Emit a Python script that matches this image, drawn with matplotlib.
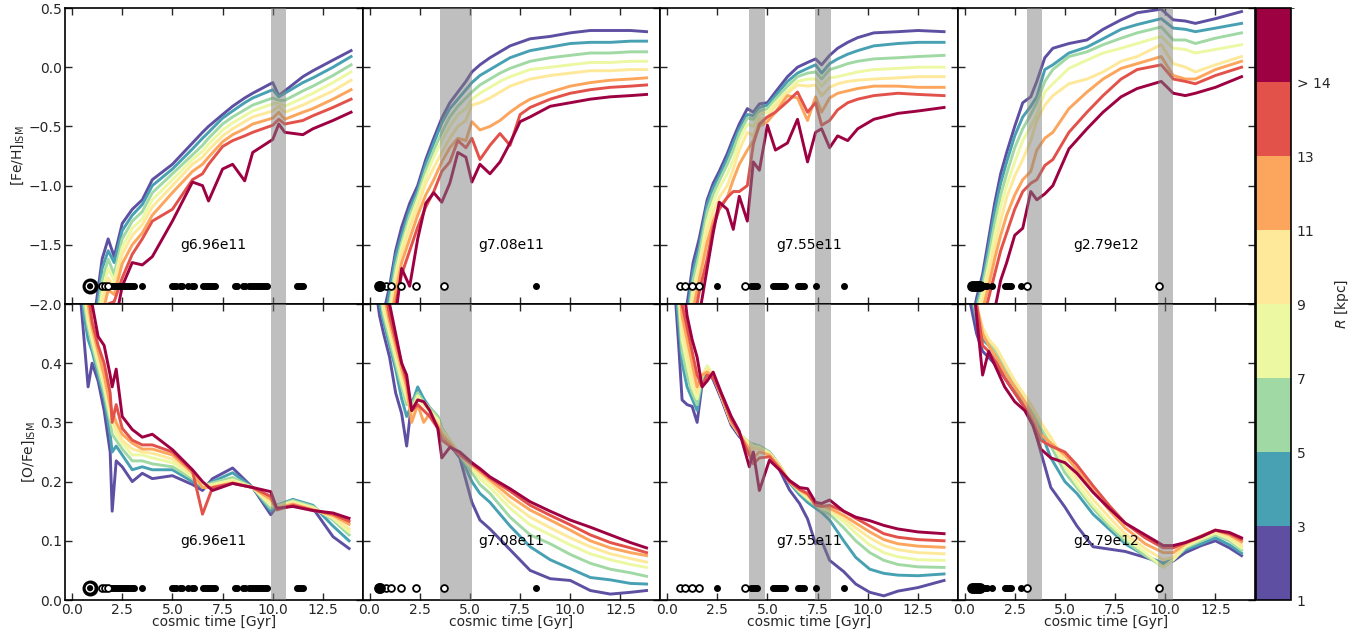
import matplotlib as mpl
import matplotlib.pyplot as plt
from matplotlib.ticker import MultipleLocator

galaxies = ['g6.96e11', 'g7.08e11', 'g7.55e11', 'g2.79e12']
r_edges = [1, 3, 5, 7, 9, 11, 13, 15, 17]
r_ticklabels = ['1', '3', '5', '7', '9', '11', '13', '> 14']

# ---- [Fe/H]_ISM, one list per radial bin (inner -> outer) ----
t_feh_1 = [0.8, 1.2, 1.5, 1.8, 2.1, 2.5, 3.0, 3.5, 4.0, 5.0, 6.0, 6.5, 6.8, 7.5, 8.0, 8.6,
           9.0, 10.0, 10.3, 10.6, 11.5, 12.0, 13.0, 13.9]
feh_1 = [
    [-2.4, -2.0, -1.62, -1.45, -1.6, -1.32, -1.2, -1.12, -0.95, -0.82, -0.64, -0.55, -0.5, -0.4, -0.33, -0.26, -0.22, -0.13, -0.24, -0.2, -0.08, -0.03, 0.06, 0.14],
    [-2.4, -2.1, -1.7, -1.55, -1.65, -1.38, -1.25, -1.16, -1.0, -0.86, -0.69, -0.6, -0.55, -0.43, -0.37, -0.3, -0.26, -0.19, -0.25, -0.22, -0.13, -0.09, 0.0, 0.09],
    [-2.5, -2.2, -1.8, -1.62, -1.75, -1.45, -1.3, -1.22, -1.06, -0.9, -0.74, -0.66, -0.6, -0.48, -0.42, -0.36, -0.32, -0.26, -0.28, -0.28, -0.2, -0.16, -0.07, 0.02],
    [-2.5, -2.3, -1.9, -1.7, -1.8, -1.52, -1.36, -1.28, -1.12, -0.95, -0.78, -0.71, -0.65, -0.53, -0.47, -0.41, -0.37, -0.31, -0.3, -0.33, -0.26, -0.22, -0.13, -0.04],
    [-2.5, -2.4, -2.0, -1.78, -1.85, -1.58, -1.42, -1.33, -1.18, -1.0, -0.82, -0.76, -0.7, -0.58, -0.52, -0.46, -0.42, -0.37, -0.33, -0.38, -0.32, -0.28, -0.2, -0.11],
    [-2.5, -2.5, -2.1, -1.88, -1.92, -1.66, -1.5, -1.4, -1.25, -1.06, -0.88, -0.82, -0.76, -0.63, -0.57, -0.52, -0.48, -0.43, -0.38, -0.44, -0.38, -0.35, -0.27, -0.19],
    [-2.5, -2.5, -2.3, -2.0, -1.98, -1.78, -1.58, -1.45, -1.3, -1.2, -0.95, -0.9, -0.82, -0.67, -0.62, -0.58, -0.55, -0.49, -0.44, -0.48, -0.45, -0.41, -0.34, -0.27],
    [-2.5, -2.5, -2.5, -2.3, -2.2, -1.85, -1.65, -1.67, -1.6, -1.3, -0.97, -1.0, -1.13, -0.86, -0.82, -0.96, -0.72, -0.61, -0.48, -0.55, -0.57, -0.52, -0.45, -0.38],
]

t_feh_2 = [0.4, 0.8, 1.0, 1.3, 1.6, 2.0, 2.4, 2.8, 3.2, 3.6, 4.0, 4.4, 4.8, 5.1, 5.5, 6.0,
           6.5, 7.0, 7.5, 8.0, 9.0, 10.0, 11.0, 12.0, 13.0, 13.8]
feh_2 = [
    [-2.2, -2.0, -1.85, -1.55, -1.35, -1.15, -1.0, -0.78, -0.6, -0.43, -0.3, -0.21, -0.12, -0.04, 0.02, 0.08, 0.13, 0.18, 0.21, 0.24, 0.26, 0.29, 0.31, 0.31, 0.31, 0.30],
    [-2.3, -2.1, -1.9, -1.6, -1.42, -1.2, -1.04, -0.82, -0.64, -0.47, -0.35, -0.27, -0.19, -0.13, -0.07, -0.02, 0.03, 0.08, 0.11, 0.14, 0.17, 0.2, 0.21, 0.21, 0.22, 0.22],
    [-2.4, -2.2, -2.0, -1.68, -1.48, -1.25, -1.08, -0.87, -0.7, -0.55, -0.42, -0.33, -0.26, -0.21, -0.15, -0.1, -0.05, -0.01, 0.02, 0.05, 0.08, 0.1, 0.12, 0.12, 0.13, 0.13],
    [-2.4, -2.3, -2.05, -1.75, -1.52, -1.3, -1.12, -0.92, -0.76, -0.62, -0.5, -0.4, -0.35, -0.27, -0.22, -0.17, -0.12, -0.08, -0.05, -0.02, 0.0, 0.02, 0.04, 0.04, 0.05, 0.05],
    [-2.5, -2.35, -2.1, -1.8, -1.58, -1.36, -1.18, -0.98, -0.85, -0.72, -0.6, -0.5, -0.45, -0.32, -0.3, -0.26, -0.21, -0.16, -0.13, -0.1, -0.07, -0.05, -0.03, -0.03, -0.02, -0.02],
    [-2.5, -2.4, -2.2, -1.9, -1.65, -1.45, -1.25, -1.08, -0.95, -0.8, -0.68, -0.6, -0.62, -0.46, -0.53, -0.5, -0.45, -0.38, -0.32, -0.27, -0.21, -0.16, -0.13, -0.11, -0.1, -0.09],
    [-2.5, -2.5, -2.3, -2.0, -1.75, -1.55, -1.35, -1.18, -1.05, -0.88, -0.8, -0.62, -0.68, -0.6, -0.78, -0.66, -0.56, -0.66, -0.40, -0.34, -0.27, -0.22, -0.19, -0.17, -0.16, -0.15],
    [-2.5, -2.5, -2.4, -2.1, -1.7, -1.85, -1.45, -1.15, -1.06, -1.14, -0.98, -0.72, -0.76, -0.97, -0.82, -0.9, -0.8, -0.64, -0.46, -0.42, -0.33, -0.3, -0.27, -0.25, -0.24, -0.23],
]

t_feh_3 = [0.8, 1.0, 1.3, 1.6, 2.0, 2.3, 2.6, 3.0, 3.3, 3.6, 4.0, 4.3, 4.6, 5.0, 5.4, 6.0,
           6.5, 7.0, 7.4, 7.7, 8.1, 8.5, 9.0, 9.5, 10.3, 11.5, 12.5, 13.8]
feh_3 = [
    [-2.3, -2.0, -1.65, -1.45, -1.12, -0.98, -0.88, -0.73, -0.6, -0.48, -0.35, -0.38, -0.31, -0.3, -0.21, -0.08, 0.0, 0.04, 0.07, 0.02, 0.1, 0.16, 0.21, 0.25, 0.29, 0.3, 0.31, 0.3],
    [-2.35, -2.1, -1.72, -1.52, -1.16, -1.02, -0.92, -0.77, -0.64, -0.52, -0.4, -0.41, -0.34, -0.32, -0.24, -0.12, -0.05, -0.01, 0.02, -0.05, 0.03, 0.07, 0.11, 0.14, 0.18, 0.2, 0.21, 0.21],
    [-2.4, -2.2, -1.8, -1.58, -1.22, -1.07, -0.96, -0.82, -0.7, -0.56, -0.43, -0.44, -0.37, -0.35, -0.27, -0.16, -0.08, -0.05, -0.04, -0.1, -0.02, 0.0, 0.03, 0.05, 0.07, 0.08, 0.09, 0.1],
    [-2.45, -2.25, -1.88, -1.66, -1.3, -1.14, -1.02, -0.9, -0.78, -0.62, -0.48, -0.5, -0.4, -0.38, -0.3, -0.2, -0.12, -0.1, -0.1, -0.16, -0.09, -0.08, -0.06, -0.04, -0.02, -0.01, 0.0, 0.0],
    [-2.5, -2.3, -1.95, -1.72, -1.38, -1.22, -1.1, -1.0, -0.86, -0.7, -0.55, -0.58, -0.44, -0.42, -0.33, -0.22, -0.15, -0.16, -0.15, -0.24, -0.17, -0.14, -0.12, -0.11, -0.1, -0.09, -0.08, -0.08],
    [-2.5, -2.4, -2.05, -1.8, -1.48, -1.3, -1.18, -1.1, -0.95, -0.82, -0.7, -0.62, -0.5, -0.46, -0.38, -0.24, -0.26, -0.45, -0.25, -0.38, -0.26, -0.22, -0.2, -0.18, -0.16, -0.16, -0.17, -0.17],
    [-2.5, -2.5, -2.2, -1.9, -1.62, -1.35, -1.2, -1.1, -1.05, -1.05, -1.0, -0.65, -0.48, -0.42, -0.38, -0.29, -0.21, -0.38, -0.3, -0.49, -0.45, -0.36, -0.3, -0.27, -0.24, -0.22, -0.23, -0.24],
    [-2.5, -2.5, -2.4, -2.1, -1.7, -1.4, -1.14, -1.2, -1.37, -1.09, -1.3, -0.8, -0.87, -0.49, -0.7, -0.64, -0.44, -0.8, -0.55, -0.52, -0.68, -0.58, -0.62, -0.52, -0.44, -0.39, -0.37, -0.34],
]

t_feh_4 = [0.3, 0.6, 0.9, 1.2, 1.5, 1.8, 2.1, 2.5, 2.9, 3.3, 3.6, 4.0, 4.4, 5.2, 6.1, 6.9,
           7.8, 8.6, 9.8, 10.4, 11.0, 11.5, 12.5, 13.8]
feh_4 = [
    [-2.2, -1.95, -1.75, -1.45, -1.15, -0.9, -0.72, -0.5, -0.3, -0.25, -0.12, 0.08, 0.16, 0.2, 0.23, 0.32, 0.4, 0.46, 0.49, 0.4, 0.39, 0.37, 0.41, 0.47],
    [-2.3, -2.0, -1.8, -1.52, -1.22, -0.98, -0.8, -0.58, -0.42, -0.33, -0.25, -0.02, 0.02, 0.12, 0.17, 0.24, 0.32, 0.36, 0.41, 0.33, 0.32, 0.3, 0.33, 0.37],
    [-2.35, -2.05, -1.85, -1.6, -1.32, -1.08, -0.9, -0.68, -0.52, -0.4, -0.3, -0.12, -0.02, 0.09, 0.13, 0.19, 0.245, 0.29, 0.34, 0.23, 0.23, 0.2, 0.245, 0.29],
    [-2.4, -2.1, -1.9, -1.68, -1.42, -1.18, -1.0, -0.8, -0.62, -0.5, -0.4, -0.21, -0.14, -0.01, 0.06, 0.12, 0.16, 0.2, 0.26, 0.16, 0.15, 0.12, 0.15, 0.19],
    [-2.45, -2.2, -1.98, -1.75, -1.52, -1.3, -1.1, -0.92, -0.78, -0.62, -0.45, -0.32, -0.24, -0.14, -0.1, -0.04, 0.05, 0.09, 0.19, 0.03, 0.0, -0.04, 0.02, 0.09],
    [-2.5, -2.3, -2.05, -1.85, -1.62, -1.42, -1.25, -1.08, -0.95, -0.88, -0.7, -0.6, -0.55, -0.35, -0.21, -0.1, -0.01, 0.03, 0.09, -0.07, -0.1, -0.1, -0.02, 0.05],
    [-2.5, -2.4, -2.15, -1.95, -1.75, -1.55, -1.4, -1.2, -1.05, -0.98, -0.95, -0.83, -0.78, -0.55, -0.38, -0.24, -0.1, -0.02, 0.02, -0.1, -0.12, -0.14, -0.07, 0.0],
    [-2.5, -2.5, -2.3, -2.3, -2.05, -1.8, -1.65, -1.42, -1.36, -1.05, -1.12, -1.07, -1.0, -0.69, -0.52, -0.38, -0.25, -0.18, -0.12, -0.22, -0.24, -0.22, -0.17, -0.08],
]

# ---- [O/Fe]_ISM ----
t_ofe_1 = [0.4, 0.6, 0.8, 1.0, 1.3, 1.6, 1.9, 2.0, 2.2, 2.5, 3.0, 3.5, 4.0, 5.0, 6.0, 6.5,
           7.0, 8.0, 9.0, 9.9, 10.2, 11.0, 12.0, 13.0, 13.8]
ofe_1 = [
    [0.52, 0.44, 0.36, 0.40, 0.37, 0.32, 0.25, 0.15, 0.235, 0.225, 0.2, 0.214, 0.205, 0.21, 0.195, 0.185, 0.205, 0.223, 0.19, 0.144, 0.158, 0.169, 0.155, 0.107, 0.087],
    [0.55, 0.48, 0.44, 0.42, 0.38, 0.34, 0.28, 0.25, 0.26, 0.245, 0.22, 0.225, 0.22, 0.22, 0.2, 0.19, 0.2, 0.215, 0.19, 0.15, 0.16, 0.17, 0.16, 0.125, 0.1],
    [0.56, 0.5, 0.46, 0.43, 0.39, 0.35, 0.3, 0.28, 0.27, 0.255, 0.235, 0.235, 0.23, 0.225, 0.205, 0.192, 0.198, 0.207, 0.19, 0.155, 0.16, 0.168, 0.158, 0.135, 0.11],
    [0.57, 0.52, 0.47, 0.44, 0.4, 0.36, 0.31, 0.3, 0.28, 0.265, 0.245, 0.245, 0.24, 0.232, 0.208, 0.193, 0.195, 0.203, 0.19, 0.16, 0.158, 0.166, 0.156, 0.138, 0.115],
    [0.58, 0.54, 0.48, 0.45, 0.41, 0.37, 0.32, 0.31, 0.29, 0.27, 0.255, 0.25, 0.248, 0.238, 0.212, 0.195, 0.193, 0.2, 0.19, 0.165, 0.157, 0.164, 0.154, 0.14, 0.12],
    [0.6, 0.56, 0.5, 0.46, 0.42, 0.38, 0.33, 0.32, 0.3, 0.28, 0.265, 0.255, 0.255, 0.245, 0.215, 0.19, 0.19, 0.198, 0.19, 0.17, 0.155, 0.162, 0.152, 0.143, 0.128],
    [0.62, 0.58, 0.52, 0.47, 0.43, 0.4, 0.35, 0.3, 0.33, 0.29, 0.27, 0.262, 0.262, 0.25, 0.218, 0.145, 0.19, 0.197, 0.19, 0.175, 0.152, 0.16, 0.152, 0.145, 0.133],
    [0.65, 0.62, 0.56, 0.5, 0.445, 0.43, 0.38, 0.36, 0.39, 0.31, 0.288, 0.275, 0.28, 0.254, 0.22, 0.2, 0.185, 0.197, 0.19, 0.183, 0.155, 0.158, 0.151, 0.147, 0.138],
]

t_ofe_2 = [0.3, 0.5, 0.7, 1.0, 1.3, 1.6, 1.85, 2.1, 2.4, 2.7, 3.0, 3.4, 3.6, 4.0, 4.5, 5.1,
           5.5, 6.0, 7.0, 8.0, 9.0, 10.0, 11.0, 12.0, 13.0, 13.8]
ofe_2 = [
    [0.53, 0.48, 0.45, 0.41, 0.35, 0.315, 0.26, 0.335, 0.35, 0.333, 0.32, 0.3, 0.28, 0.262, 0.24, 0.165, 0.135, 0.12, 0.085, 0.05, 0.036, 0.033, 0.016, 0.01, 0.013, 0.016],
    [0.55, 0.5, 0.47, 0.43, 0.39, 0.34, 0.31, 0.33, 0.36, 0.34, 0.325, 0.31, 0.29, 0.268, 0.245, 0.2, 0.18, 0.165, 0.125, 0.09, 0.068, 0.053, 0.038, 0.034, 0.028, 0.027],
    [0.56, 0.52, 0.48, 0.44, 0.4, 0.36, 0.33, 0.33, 0.35, 0.335, 0.325, 0.31, 0.29, 0.27, 0.245, 0.215, 0.195, 0.18, 0.14, 0.11, 0.095, 0.077, 0.062, 0.052, 0.046, 0.04],
    [0.57, 0.53, 0.49, 0.45, 0.41, 0.37, 0.34, 0.32, 0.345, 0.33, 0.32, 0.305, 0.288, 0.27, 0.245, 0.222, 0.205, 0.19, 0.155, 0.127, 0.11, 0.093, 0.078, 0.068, 0.06, 0.055],
    [0.58, 0.54, 0.5, 0.46, 0.42, 0.38, 0.35, 0.31, 0.34, 0.33, 0.318, 0.3, 0.285, 0.268, 0.245, 0.226, 0.212, 0.198, 0.165, 0.14, 0.122, 0.105, 0.09, 0.078, 0.07, 0.064],
    [0.6, 0.56, 0.52, 0.47, 0.43, 0.39, 0.36, 0.3, 0.33, 0.3, 0.315, 0.295, 0.28, 0.265, 0.245, 0.228, 0.217, 0.203, 0.175, 0.152, 0.135, 0.118, 0.1, 0.088, 0.08, 0.075],
    [0.62, 0.58, 0.54, 0.48, 0.44, 0.4, 0.37, 0.32, 0.33, 0.32, 0.31, 0.29, 0.27, 0.26, 0.245, 0.23, 0.22, 0.206, 0.184, 0.16, 0.143, 0.127, 0.11, 0.097, 0.088, 0.08],
    [0.65, 0.6, 0.56, 0.5, 0.45, 0.4, 0.38, 0.32, 0.338, 0.335, 0.32, 0.29, 0.24, 0.258, 0.25, 0.232, 0.222, 0.208, 0.188, 0.166, 0.15, 0.135, 0.123, 0.11, 0.097, 0.088],
]

t_ofe_3 = [0.4, 0.6, 0.75, 1.0, 1.25, 1.5, 1.75, 2.0, 2.3, 2.7, 3.2, 3.6, 4.1, 4.3, 4.6, 5.1,
           5.6, 6.1, 6.6, 7.0, 7.4, 7.7, 8.1, 8.8, 9.4, 10.1, 10.8, 11.5, 12.5, 13.8]
ofe_3 = [
    [0.52, 0.42, 0.338, 0.33, 0.327, 0.3, 0.366, 0.39, 0.372, 0.34, 0.295, 0.276, 0.259, 0.26, 0.258, 0.248, 0.22, 0.186, 0.163, 0.137, 0.095, 0.1, 0.067, 0.048, 0.027, 0.013, 0.007, 0.015, 0.021, 0.033],
    [0.54, 0.46, 0.4, 0.36, 0.34, 0.32, 0.37, 0.392, 0.375, 0.345, 0.3, 0.28, 0.265, 0.263, 0.26, 0.25, 0.228, 0.198, 0.178, 0.165, 0.155, 0.148, 0.135, 0.1, 0.072, 0.052, 0.045, 0.042, 0.041, 0.044],
    [0.56, 0.49, 0.42, 0.38, 0.35, 0.33, 0.375, 0.395, 0.378, 0.345, 0.3, 0.28, 0.266, 0.262, 0.26, 0.25, 0.228, 0.2, 0.182, 0.17, 0.16, 0.152, 0.145, 0.122, 0.1, 0.08, 0.067, 0.06, 0.056, 0.055],
    [0.57, 0.51, 0.44, 0.4, 0.36, 0.34, 0.38, 0.395, 0.38, 0.345, 0.3, 0.28, 0.265, 0.26, 0.258, 0.248, 0.228, 0.2, 0.184, 0.172, 0.162, 0.155, 0.15, 0.132, 0.113, 0.093, 0.08, 0.073, 0.068, 0.067],
    [0.58, 0.53, 0.46, 0.42, 0.38, 0.35, 0.38, 0.39, 0.38, 0.345, 0.3, 0.28, 0.262, 0.255, 0.255, 0.247, 0.227, 0.2, 0.185, 0.175, 0.163, 0.158, 0.153, 0.138, 0.122, 0.105, 0.092, 0.085, 0.08, 0.078],
    [0.6, 0.55, 0.48, 0.44, 0.4, 0.36, 0.38, 0.385, 0.378, 0.345, 0.3, 0.28, 0.255, 0.24, 0.25, 0.245, 0.225, 0.2, 0.186, 0.178, 0.165, 0.16, 0.155, 0.143, 0.13, 0.115, 0.102, 0.095, 0.091, 0.089],
    [0.62, 0.57, 0.5, 0.46, 0.42, 0.38, 0.36, 0.38, 0.375, 0.348, 0.305, 0.282, 0.245, 0.23, 0.24, 0.242, 0.222, 0.2, 0.187, 0.18, 0.16, 0.158, 0.16, 0.15, 0.138, 0.125, 0.112, 0.106, 0.102, 0.1],
    [0.65, 0.6, 0.55, 0.48, 0.44, 0.41, 0.36, 0.37, 0.385, 0.35, 0.31, 0.285, 0.225, 0.25, 0.185, 0.236, 0.22, 0.202, 0.19, 0.188, 0.165, 0.163, 0.169, 0.15, 0.14, 0.134, 0.126, 0.12, 0.115, 0.112],
]

t_ofe_4 = [0.3, 0.6, 0.9, 1.2, 1.6, 2.0, 2.5, 3.0, 3.4, 3.8, 4.3, 5.0, 5.6, 6.4, 7.2, 8.0,
           9.0, 9.9, 10.4, 11.0, 11.8, 12.5, 13.2, 13.8]
ofe_4 = [
    [0.5, 0.45, 0.42, 0.41, 0.395, 0.375, 0.35, 0.325, 0.3, 0.25, 0.19, 0.157, 0.125, 0.09, 0.086, 0.082, 0.072, 0.062, 0.066, 0.08, 0.092, 0.1, 0.088, 0.075],
    [0.52, 0.47, 0.44, 0.43, 0.41, 0.385, 0.36, 0.33, 0.31, 0.285, 0.24, 0.2, 0.18, 0.145, 0.12, 0.095, 0.075, 0.062, 0.07, 0.085, 0.095, 0.105, 0.093, 0.079],
    [0.53, 0.48, 0.45, 0.435, 0.42, 0.39, 0.365, 0.335, 0.315, 0.295, 0.26, 0.215, 0.19, 0.155, 0.125, 0.1, 0.075, 0.056, 0.068, 0.088, 0.1, 0.11, 0.1, 0.084],
    [0.54, 0.49, 0.46, 0.44, 0.425, 0.4, 0.37, 0.345, 0.325, 0.3, 0.27, 0.225, 0.195, 0.16, 0.13, 0.105, 0.08, 0.055, 0.068, 0.09, 0.103, 0.113, 0.103, 0.088],
    [0.55, 0.5, 0.46, 0.44, 0.425, 0.4, 0.37, 0.345, 0.325, 0.3, 0.275, 0.235, 0.205, 0.17, 0.14, 0.112, 0.087, 0.068, 0.072, 0.093, 0.105, 0.115, 0.106, 0.092],
    [0.56, 0.5, 0.45, 0.43, 0.41, 0.385, 0.36, 0.335, 0.31, 0.28, 0.265, 0.245, 0.22, 0.185, 0.152, 0.122, 0.095, 0.08, 0.08, 0.095, 0.108, 0.118, 0.11, 0.098],
    [0.57, 0.5, 0.43, 0.42, 0.4, 0.375, 0.35, 0.325, 0.3, 0.27, 0.26, 0.25, 0.228, 0.193, 0.16, 0.13, 0.105, 0.088, 0.088, 0.097, 0.108, 0.118, 0.112, 0.102],
    [0.58, 0.48, 0.38, 0.42, 0.39, 0.36, 0.335, 0.32, 0.295, 0.255, 0.24, 0.232, 0.214, 0.182, 0.155, 0.13, 0.11, 0.092, 0.092, 0.097, 0.107, 0.118, 0.114, 0.105],
]

# grey bands (merger phases), Gyr
bands = [[(9.9, 10.65)], [(3.5, 5.08)], [(4.08, 4.87), (7.38, 8.17)], [(3.12, 3.88), (9.62, 10.38)]]

# merger markers: big filled, small filled, open
merg_big = [[0.9], [0.45, 0.5], [], [0.35, 0.45, 0.55, 0.65, 0.75]]
merg_fill = [
    [1.9, 2.0, 2.1, 2.2, 2.3, 2.4, 2.5, 2.6, 2.7, 2.8, 2.9, 3.0, 3.1, 3.5, 5.0, 5.1, 5.2, 5.4, 5.5,
     5.8, 6.0, 6.1, 6.5, 6.6, 6.7, 6.8, 6.9, 7.0, 7.1, 8.1, 8.2, 8.5, 8.6, 8.8, 8.9, 9.0, 9.1,
     9.2, 9.3, 9.4, 9.5, 9.6, 9.7, 11.2, 11.3, 11.4, 11.5],
    [8.3],
    [0.75, 2.5, 4.2, 4.3, 4.4, 4.5, 5.3, 5.4, 5.5, 5.6, 5.7, 5.8, 5.9, 6.5, 6.6, 6.7, 6.8, 7.4, 8.8],
    [1.0, 1.1, 1.35, 2.0, 2.1, 2.2, 2.3, 2.8],
]
merg_open = [[1.5, 1.65, 1.8], [0.8, 1.05, 1.55, 2.3, 3.7], [0.65, 0.9, 1.25, 1.6, 3.9],
             [3.1, 9.7]]

feh_t = [t_feh_1, t_feh_2, t_feh_3, t_feh_4]
feh = [feh_1, feh_2, feh_3, feh_4]
ofe_t = [t_ofe_1, t_ofe_2, t_ofe_3, t_ofe_4]
ofe = [ofe_1, ofe_2, ofe_3, ofe_4]

txt = '#262626'
plt.rcParams['font.family'] = 'DejaVu Sans'
plt.rcParams['font.size'] = 10
plt.rcParams['xtick.color'] = txt
plt.rcParams['ytick.color'] = txt
plt.rcParams['axes.labelcolor'] = txt

cmap = plt.get_cmap('Spectral_r').resampled(8)
colors = [cmap(i) for i in range(8)]

W, H = 1359, 639
fig = plt.figure(figsize=(W / 100, H / 100), dpi=100)
x0, pw = 65, 297.5
ytop, ymid, ybot = 8, 304, 600

for row in range(2):
    for col in range(4):
        bottom = ymid if row == 0 else ybot
        ax = fig.add_axes([(x0 + col * pw) / W, (H - bottom) / H, pw / W, (ymid - ytop) / H])
        if row == 0:
            tt, data, ymerg = feh_t[col], feh[col], -1.85
        else:
            tt, data, ymerg = ofe_t[col], ofe[col], 0.02
        for k in range(8):
            ax.plot(tt, data[k], color=colors[k], lw=2.1, zorder=2)
        for a, b in bands[col]:
            ax.axvspan(a, b, color='grey', alpha=0.5, lw=0, zorder=3)
        ax.scatter(merg_fill[col], [ymerg] * len(merg_fill[col]), s=16, c='k', zorder=5)
        ax.scatter(merg_open[col], [ymerg] * len(merg_open[col]), s=24, facecolors='white',
                   edgecolors='k', linewidths=1.3, zorder=5)
        if col == 0:
            ax.scatter(merg_big[col], [ymerg], s=110, c='k', zorder=5)
            ax.scatter(merg_big[col], [ymerg], s=30, facecolors='none', edgecolors='white',
                       linewidths=1.0, zorder=6)
        else:
            ax.scatter(merg_big[col], [ymerg] * len(merg_big[col]), s=45, c='k', zorder=5)
        ax.text(0.5, 0.2, galaxies[col], transform=ax.transAxes, ha='center', va='center',
                fontsize=10, color='k', zorder=6)

        ax.set_xlim(-0.35, 14.47)
        ax.xaxis.set_major_locator(MultipleLocator(2.5))
        if row == 0:
            ax.set_ylim(-2.0, 0.5)
            ax.yaxis.set_major_locator(MultipleLocator(0.5))
            ax.set_xticklabels([])
        else:
            ax.set_ylim(0.0, 0.5)
            ax.set_yticks([0.0, 0.1, 0.2, 0.3, 0.4, 0.5])
            ax.set_yticklabels(['0.0', '0.1', '0.2', '0.3', '0.4', ''])
            ax.set_xlabel('cosmic time [Gyr]', labelpad=-1)
        ax.tick_params(direction='in', top=True, right=True, length=5, width=1.0,
                       labelsize=10, pad=2)
        for sp in ax.spines.values():
            sp.set_linewidth(1.2)
        if col == 0:
            ax.set_ylabel('[Fe/H]$_{\\rm ISM}$' if row == 0 else '[O/Fe]$_{\\rm ISM}$', labelpad=2)
        else:
            ax.set_yticklabels([])

cax = fig.add_axes([1256 / W, (H - ybot) / H, 35 / W, (ybot - ytop) / H])
norm = mpl.colors.BoundaryNorm(r_edges, cmap.N)
cb = fig.colorbar(mpl.cm.ScalarMappable(norm=norm, cmap=cmap), cax=cax, ticks=r_edges[:-1])
cb.set_ticklabels(r_ticklabels)
cax.tick_params(length=0, labelsize=10, pad=4)
cb.outline.set_linewidth(1.2)
cb.set_label('$R$ [kpc]', labelpad=2)

fig.savefig('out.png', dpi=100)
